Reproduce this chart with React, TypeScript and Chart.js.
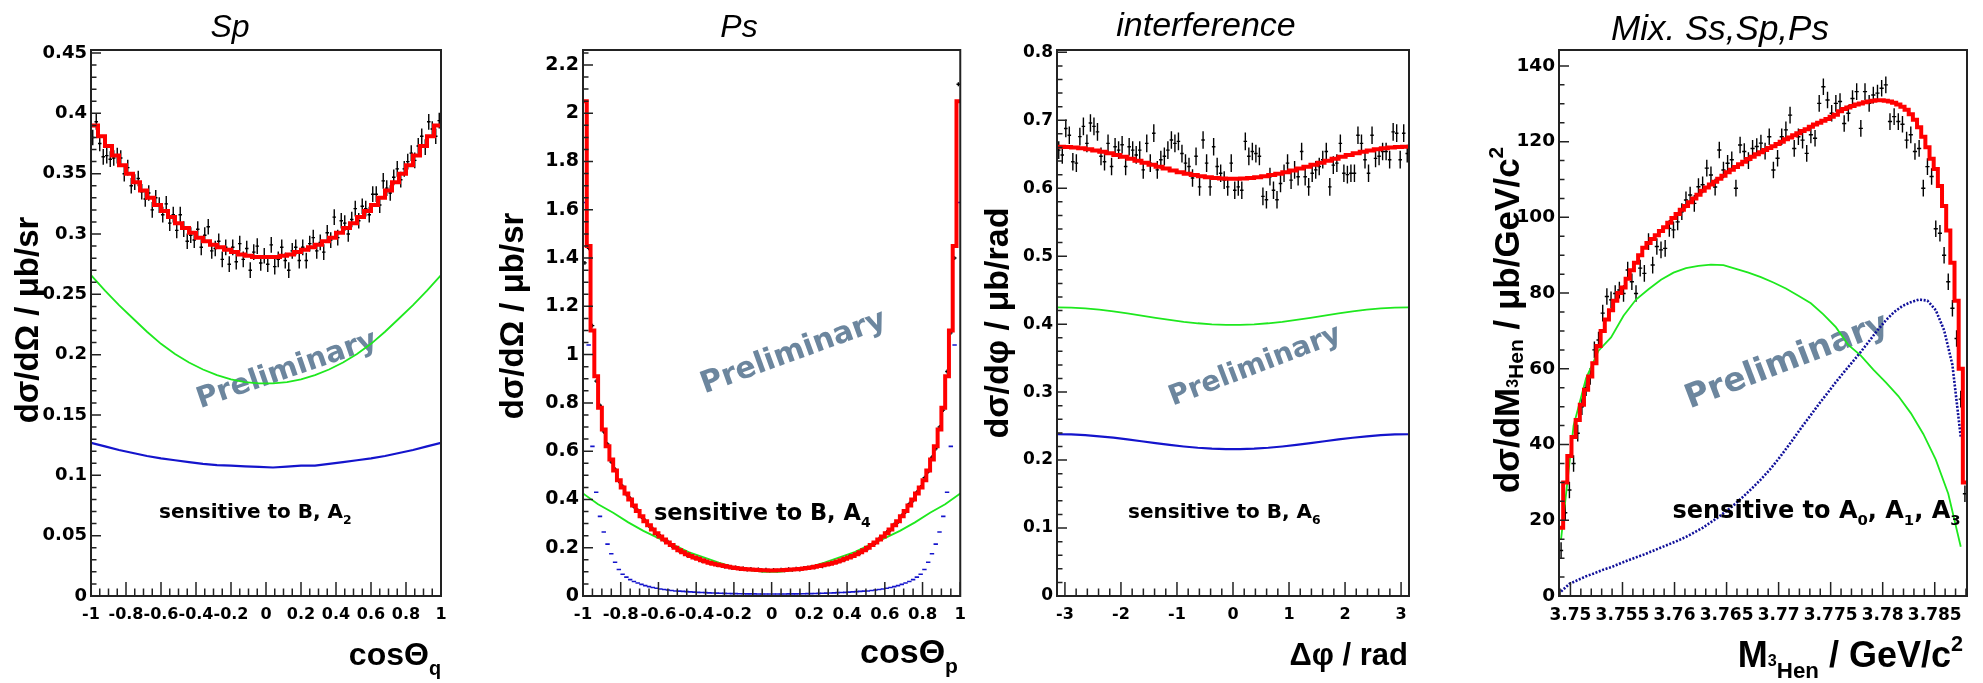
import React, { useEffect, useRef } from "react";
import { Chart, registerables } from "chart.js";

Chart.register(...registerables);

const PAGE_W = 1983;
const PAGE_H = 683;

/* ================= Panel 1 : Sp ================= */
const SP_X_TICKS = [-1, -0.8, -0.6, -0.4, -0.2, 0, 0.2, 0.4, 0.6, 0.8, 1];
const SP_X_LABELS = ["-1", "-0.8", "-0.6", "-0.4", "-0.2", "0", "0.2", "0.4", "0.6", "0.8", "1"];
const SP_Y_TICKS = [0, 0.05, 0.1, 0.15, 0.2, 0.25, 0.3, 0.35, 0.4, 0.45];
const SP_Y_LABELS = ["0", "0.05", "0.1", "0.15", "0.2", "0.25", "0.3", "0.35", "0.4", "0.45"];
const SP_DATA = [
  0.380, 0.393, 0.375, 0.364, 0.365, 0.362, 0.363, 0.365, 0.363, 0.350,
  0.355, 0.340, 0.343, 0.346, 0.335, 0.329, 0.334, 0.320, 0.330, 0.324,
  0.316, 0.325, 0.309, 0.316, 0.303, 0.316, 0.304, 0.294, 0.299, 0.295,
  0.304, 0.289, 0.299, 0.306, 0.286, 0.288, 0.294, 0.279, 0.289, 0.275,
  0.289, 0.277, 0.292, 0.279, 0.288, 0.270, 0.285, 0.290, 0.276, 0.282,
  0.275, 0.291, 0.273, 0.279, 0.289, 0.278, 0.270, 0.286, 0.289, 0.278,
  0.289, 0.278, 0.292, 0.297, 0.286, 0.293, 0.285, 0.301, 0.295, 0.314,
  0.297, 0.311, 0.309, 0.300, 0.312, 0.321, 0.311, 0.323, 0.321, 0.316,
  0.333, 0.333, 0.324, 0.344, 0.338, 0.334, 0.347, 0.354, 0.345, 0.354,
  0.360, 0.367, 0.361, 0.373, 0.381, 0.372, 0.393, 0.387, 0.381, 0.394,
];
const SP_FIT = [
  0.390, 0.381, 0.373, 0.365, 0.357, 0.350, 0.343, 0.336, 0.330, 0.324,
  0.319, 0.314, 0.309, 0.305, 0.301, 0.297, 0.294, 0.291, 0.289, 0.287,
  0.285, 0.283, 0.282, 0.281, 0.281, 0.281, 0.281, 0.282, 0.283, 0.285,
  0.287, 0.289, 0.291, 0.294, 0.297, 0.301, 0.305, 0.309, 0.314, 0.319,
  0.324, 0.330, 0.336, 0.343, 0.350, 0.357, 0.365, 0.373, 0.381, 0.390,
];
const SP_GREEN = [
  0.266, 0.253, 0.241, 0.230, 0.219, 0.209, 0.2005, 0.1935, 0.1877, 0.183, 0.1795, 0.1772, 0.1762,
  0.1762, 0.1772, 0.1795, 0.183, 0.1877, 0.1935, 0.2005, 0.209, 0.219, 0.230, 0.241, 0.253, 0.266,
];
const SP_BLUE = [
  0.127, 0.124, 0.121, 0.1185, 0.116, 0.114, 0.1125, 0.111, 0.1095, 0.1085, 0.108, 0.1075, 0.107,
  0.1065, 0.1072, 0.108, 0.108, 0.1095, 0.111, 0.1125, 0.114, 0.116, 0.1185, 0.121, 0.124, 0.127,
];

/* ================= Panel 2 : Ps ================= */
const PS_X_TICKS = SP_X_TICKS;
const PS_X_LABELS = SP_X_LABELS;
const PS_Y_TICKS = [0, 0.2, 0.4, 0.6, 0.8, 1, 1.2, 1.4, 1.6, 1.8, 2, 2.2];
const PS_Y_LABELS = ["0", "0.2", "0.4", "0.6", "0.8", "1", "1.2", "1.4", "1.6", "1.8", "2", "2.2"];
const PS_FIT = [
  2.05, 1.45, 1.10, 0.91, 0.78, 0.69, 0.62, 0.565, 0.52, 0.48,
  0.45, 0.425, 0.40, 0.375, 0.352, 0.33, 0.31, 0.293, 0.276, 0.26,
  0.246, 0.234, 0.222, 0.211, 0.200, 0.19, 0.181, 0.173, 0.166, 0.16,
  0.154, 0.148, 0.143, 0.138, 0.134, 0.13, 0.127, 0.124, 0.121, 0.118,
  0.116, 0.114, 0.112, 0.111, 0.110, 0.109, 0.108, 0.107, 0.107, 0.106,
  0.106, 0.107, 0.107, 0.108, 0.109, 0.110, 0.111, 0.112, 0.114, 0.116,
  0.118, 0.121, 0.124, 0.127, 0.13, 0.134, 0.138, 0.143, 0.148, 0.154,
  0.16, 0.166, 0.173, 0.181, 0.19, 0.200, 0.211, 0.222, 0.234, 0.246,
  0.26, 0.276, 0.293, 0.31, 0.33, 0.352, 0.375, 0.40, 0.425, 0.45,
  0.48, 0.52, 0.565, 0.62, 0.69, 0.78, 0.91, 1.10, 1.45, 2.05,
];
const PS_DATA = [
  1.38, 1.44, 1.12, 0.89, 0.79, 0.68, 0.63, 0.555, 0.525, 0.475,
  0.455, 0.42, 0.405, 0.37, 0.356, 0.327, 0.313, 0.29, 0.279, 0.257,
  0.249, 0.231, 0.225, 0.208, 0.203, 0.187, 0.183, 0.171, 0.168, 0.158,
  0.156, 0.146, 0.145, 0.136, 0.136, 0.128, 0.129, 0.122, 0.123, 0.116,
  0.118, 0.112, 0.114, 0.109, 0.112, 0.107, 0.11, 0.105, 0.109, 0.104,
  0.108, 0.105, 0.109, 0.106, 0.111, 0.108, 0.113, 0.11, 0.115, 0.117,
  0.12, 0.119, 0.125, 0.123, 0.131, 0.132, 0.139, 0.141, 0.147, 0.152,
  0.162, 0.164, 0.175, 0.179, 0.192, 0.197, 0.213, 0.219, 0.237, 0.243,
  0.264, 0.272, 0.297, 0.306, 0.334, 0.348, 0.382, 0.395, 0.43, 0.452,
  0.49, 0.515, 0.575, 0.61, 0.70, 0.77, 0.93, 1.09, 1.40, 2.12,
];
const PS_GREEN = [
  0.425, 0.38, 0.345, 0.305, 0.27, 0.24, 0.212, 0.182, 0.16, 0.138, 0.12, 0.107, 0.100,
  0.100, 0.107, 0.12, 0.138, 0.16, 0.182, 0.212, 0.24, 0.27, 0.305, 0.345, 0.38, 0.425,
];
const PS_BLUE = [
  1.63, 1.04, 0.62, 0.43, 0.33, 0.265, 0.215, 0.175, 0.14, 0.11,
  0.09, 0.078, 0.068, 0.06, 0.054, 0.048, 0.043, 0.039, 0.035, 0.032,
  0.029, 0.027, 0.025, 0.023, 0.021, 0.020, 0.019, 0.018, 0.017, 0.016,
  0.015, 0.0145, 0.014, 0.013, 0.0125, 0.012, 0.0115, 0.011, 0.0105, 0.010,
  0.0098, 0.0095, 0.0092, 0.009, 0.0088, 0.0086, 0.0085, 0.0084, 0.0083, 0.0083,
  0.0083, 0.0083, 0.0084, 0.0085, 0.0086, 0.0088, 0.009, 0.0092, 0.0095, 0.0098,
  0.010, 0.0105, 0.011, 0.0115, 0.012, 0.0125, 0.013, 0.014, 0.0145, 0.015,
  0.016, 0.017, 0.018, 0.019, 0.020, 0.021, 0.023, 0.025, 0.027, 0.029,
  0.032, 0.035, 0.039, 0.043, 0.048, 0.054, 0.06, 0.068, 0.078, 0.09,
  0.11, 0.14, 0.175, 0.215, 0.265, 0.33, 0.43, 0.62, 1.04, 1.63,
];

/* ================= Panel 3 : interference ================= */
const INT_X_TICKS = [-3, -2, -1, 0, 1, 2, 3];
const INT_X_LABELS = ["-3", "-2", "-1", "0", "1", "2", "3"];
const INT_Y_TICKS = [0, 0.1, 0.2, 0.3, 0.4, 0.5, 0.6, 0.7, 0.8];
const INT_Y_LABELS = ["0", "0.1", "0.2", "0.3", "0.4", "0.5", "0.6", "0.7", "0.8"];
const INT_DATA = [
  0.656, 0.649, 0.688, 0.678, 0.639, 0.637, 0.676, 0.691, 0.666, 0.696,
  0.691, 0.683, 0.647, 0.639, 0.666, 0.632, 0.661, 0.656, 0.664, 0.632,
  0.661, 0.656, 0.649, 0.656, 0.627, 0.666, 0.637, 0.681, 0.627, 0.642,
  0.647, 0.656, 0.671, 0.666, 0.669, 0.651, 0.637, 0.632, 0.615, 0.647,
  0.602, 0.671, 0.637, 0.602, 0.661, 0.632, 0.622, 0.612, 0.602, 0.637,
  0.597, 0.602, 0.597, 0.669, 0.647, 0.654, 0.651, 0.647, 0.588, 0.583,
  0.617, 0.597, 0.583, 0.607, 0.622, 0.637, 0.612, 0.627, 0.617, 0.654,
  0.617, 0.602, 0.622, 0.627, 0.632, 0.642, 0.654, 0.602, 0.634, 0.637,
  0.666, 0.622, 0.620, 0.622, 0.622, 0.678, 0.666, 0.642, 0.622, 0.678,
  0.644, 0.647, 0.654, 0.654, 0.642, 0.683, 0.681, 0.642, 0.681, 0.651,
];
const INT_FIT = [
  0.661, 0.6606, 0.6599, 0.6588, 0.6573, 0.6556, 0.6536, 0.6513, 0.6488, 0.6462,
  0.6434, 0.6404, 0.6375, 0.6346, 0.6317, 0.6289, 0.6262, 0.6237, 0.6214, 0.6194,
  0.6177, 0.6162, 0.6152, 0.6144, 0.6141, 0.6141, 0.6144, 0.6152, 0.6162, 0.6177,
  0.6194, 0.6214, 0.6237, 0.6262, 0.6289, 0.6317, 0.6346, 0.6375, 0.6404, 0.6434,
  0.6462, 0.6488, 0.6513, 0.6536, 0.6556, 0.6573, 0.6588, 0.6599, 0.6606, 0.661,
];
const INT_GREEN = [
  0.4248, 0.4244, 0.4232, 0.4213, 0.4188, 0.4158, 0.4126, 0.4094, 0.4063, 0.4035, 0.4013, 0.3997, 0.3989,
  0.3989, 0.3997, 0.4013, 0.4035, 0.4063, 0.4094, 0.4126, 0.4158, 0.4188, 0.4213, 0.4232, 0.4244, 0.4248,
];
const INT_BLUE = [
  0.238, 0.2377, 0.2366, 0.235, 0.2329, 0.2304, 0.2277, 0.2249, 0.2223, 0.22, 0.2181, 0.2168, 0.2161,
  0.2161, 0.2168, 0.2181, 0.22, 0.2223, 0.2249, 0.2277, 0.2304, 0.2329, 0.235, 0.2366, 0.2377, 0.238,
];

/* ================= Panel 4 : Mix. Ss,Sp,Ps ================= */
const MIX_X_TICKS = [3.75, 3.755, 3.76, 3.765, 3.77, 3.775, 3.78, 3.785];
const MIX_X_LABELS = ["3.75", "3.755", "3.76", "3.765", "3.77", "3.775", "3.78", "3.785"];
const MIX_Y_TICKS = [0, 20, 40, 60, 80, 100, 120, 140];
const MIX_Y_LABELS = ["0", "20", "40", "60", "80", "100", "120", "140"];
const MIX_DATA = [
  12, 22, 28, 35, 43, 50, 55, 58, 65, 67.6,
  74.7, 79.1, 78.2, 79.9, 80.8, 79.9, 86.1, 83, 79.9, 86.6,
  85.2, 93.6, 87.4, 92.3, 91.4, 91.8, 97.1, 96.7, 98.8, 101.5,
  104.6, 105.9, 103.7, 108.1, 108.6, 113, 111.2, 108, 117.8, 112.5,
  114.3, 115.2, 107.7, 119.1, 117.4, 115, 118.2, 118.7, 119.6, 117.5,
  121.3, 112.5, 115.6, 121.3, 123.1, 127, 118.2, 121.3, 120.4, 116.9,
  121.8, 120.9, 130.1, 134.5, 131, 127.5, 130.1, 130.6, 124.8, 127.5,
  131.4, 133.2, 123.5, 133.2, 130.1, 132.3, 132.8, 134.1, 135, 125.3,
  126.6, 125.3, 124.6, 120.4, 121.8, 117.4, 118.2, 107.7, 113.4, 110.8,
  97, 95.8, 90, 83, 76, 68, 52, 27,
];
const MIX_FIT = [
  18, 30, 37, 42, 46.5, 50.5, 54.5, 58, 61.5, 66,
  70, 73, 75.5, 78, 80, 81.5, 83.8, 86, 88, 90,
  92, 93.2, 94.3, 95.3, 96.4, 97.4, 98.6, 99.8, 100.9, 102,
  103, 104, 105, 106, 107, 107.9, 108.7, 109.4, 110.2, 111,
  111.9, 112.6, 113.3, 114, 114.7, 115.4, 116, 116.7, 117.2, 117.8,
  118.3, 118.8, 119.4, 120, 120.6, 121.1, 121.7, 122.2, 122.8, 123.3,
  123.9, 124.5, 125, 125.5, 126, 126.6, 127.1, 128, 128.6, 129,
  129.4, 129.8, 130.1, 130.4, 130.6, 130.8, 130.9, 130.9, 130.8, 130.6,
  130.3, 129.8, 129.2, 128.4, 127.2, 125.8, 123.8, 121.3, 118.5, 115.5,
  112.8, 108.3, 103, 96.5, 88, 78, 60, 30,
];
const MIX_GREEN = [
  15, 45, 57.5, 64.8, 68.3, 74, 78.3, 81, 83.5, 85.4, 86.6, 87.2, 87.5, 87.4, 86.4, 85.4, 84.2,
  82.8, 81.2, 79.3, 77.3, 74.4, 71, 66.3, 63.5, 59.8, 56.4, 52.8, 48.3, 42.8, 36, 27, 13,
];
const MIX_BLUE = [
  1.2, 3.2, 4.2, 5.2, 6, 6.9, 7.6, 8.5, 9.4, 10.2,
  11, 11.9, 12.8, 13.7, 14.6, 15.6, 16.8, 18, 19.5, 21,
  22.7, 24.5, 26.5, 28.6, 30.8, 33.2, 35.9, 38.8, 41.8, 44.9,
  47.8, 50.8, 53.6, 56.5, 59.2, 61.8, 64.5, 67.3, 70.2, 72.8,
  75, 76.6, 77.6, 78.3, 78, 75.5, 70.2, 61, 42,
];

/* ================= helpers ================= */
const LIB = "'Liberation Sans', Arial, Helvetica, sans-serif";
const DEJ = "'DejaVu Sans', Verdana, sans-serif";
const RED = "#ff0000";
const GREEN = "#1ee81e";
const BLUE = "#1414cc";
const DARK_BLUE = "#10109a";
const PRELIM_COLOR = "rgb(108,134,158)";

type Seg = { t: string; k?: "sub" | "sup" | "pre" | "low" };

const stepPts = (lo: number, hi: number, vals: number[]) => {
  const w = (hi - lo) / vals.length;
  const pts = vals.map((v, i) => ({ x: lo + i * w, y: v }));
  pts.push({ x: hi, y: vals[vals.length - 1] });
  return pts;
};
const centerPts = (lo: number, hi: number, vals: number[]) => {
  const w = (hi - lo) / vals.length;
  return vals.map((v, i) => ({ x: lo + (i + 0.5) * w, y: v }));
};
const gridPts = (x0: number, dx: number, vals: number[]) => vals.map((v, i) => ({ x: x0 + i * dx, y: v }));

const fitDs = (pts: any[]) => ({
  data: pts, showLine: true, stepped: true, borderColor: RED, borderWidth: 4, pointRadius: 0, fill: false,
});
const curveDs = (pts: any[], color: string, width: number, extra: any = {}) => ({
  data: pts, showLine: true, borderColor: color, borderWidth: width, pointRadius: 0, fill: false, ...extra,
});
const dataDs = (pts: any[], ex: number, ey: number) => ({
  data: pts, showLine: false, pointRadius: 0, errX: ex, errY: ey,
});

function segM(seg: Seg, size: number) {
  if (seg.k === "sub") return { s: size * 0.62, dy: size * 0.3 };
  if (seg.k === "low") return { s: size * 0.6, dy: size * 0.1 };
  if (seg.k === "sup") return { s: size * 0.6, dy: -size * 0.45 };
  if (seg.k === "pre") return { s: size * 0.45, dy: -size * 0.02 };
  return { s: size, dy: 0 };
}

function drawRich(ctx: any, segs: Seg[], x: number, y: number, size: number, family: string,
  style: string, align: string, angle: number) {
  ctx.save();
  ctx.translate(x, y);
  ctx.rotate(angle);
  ctx.textBaseline = "alphabetic";
  ctx.textAlign = "left";
  ctx.fillStyle = "#000";
  let total = 0;
  const widths = segs.map((seg) => {
    const m = segM(seg, size);
    ctx.font = `${style} ${m.s}px ${family}`;
    const w = ctx.measureText(seg.t).width;
    total += w;
    return w;
  });
  let cx = align === "left" ? 0 : align === "right" ? -total : -total / 2;
  segs.forEach((seg, i) => {
    const m = segM(seg, size);
    ctx.font = `${style} ${m.s}px ${family}`;
    ctx.fillText(seg.t, cx, m.dy);
    cx += widths[i];
  });
  ctx.restore();
}

/* ================= panel definitions ================= */
const PANELS: any[] = [
  {
    key: "sp", left: 0, width: 470, yAxisW: 91, padRight: 29,
    xMin: -1, xMax: 1, yMin: 0, yMax: 0.4525,
    xTicks: SP_X_TICKS, xLabels: SP_X_LABELS, xMinor: 0.05,
    yTicks: SP_Y_TICKS, yLabels: SP_Y_LABELS, yMinor: 0.01,
    xTickSize: 16, yTickSize: 18,
    title: "Sp", titleX: 230, titleY: 37, titleSize: 32,
    yTitle: [{ t: "dσ/dΩ / μb/sr" }], yTitleX: 38, yTitleY: 320, yTitleSize: 33,
    xTitle: [{ t: "cosΘ" }, { t: "q", k: "sub" }], xTitleX: 441, xTitleY: 665, xTitleSize: 32,
    note: [{ t: "sensitive to B, A" }, { t: "2", k: "sub" }], noteAt: [-0.611, 0.0646], noteSize: 20,
    prelimAt: [0.12, 0.187], prelimAngle: 19, prelimSize: 29,
    datasets: () => [
      fitDs(stepPts(-1, 1, SP_FIT)),
      curveDs(gridPts(-1, 0.08, SP_BLUE), BLUE, 2.2),
      curveDs(gridPts(-1, 0.08, SP_GREEN), GREEN, 1.8),
      dataDs(centerPts(-1, 1, SP_DATA), 0.01, 0.0065),
    ],
  },
  {
    key: "ps", left: 470, width: 505, yAxisW: 113, padRight: 14,
    xMin: -1, xMax: 1, yMin: 0, yMax: 2.262,
    xTicks: PS_X_TICKS, xLabels: PS_X_LABELS, xMinor: 0.05,
    yTicks: PS_Y_TICKS, yLabels: PS_Y_LABELS, yMinor: 0.05,
    xTickSize: 16.5, yTickSize: 19,
    title: "Ps", titleX: 269, titleY: 37, titleSize: 32,
    yTitle: [{ t: "dσ/dΩ / μb/sr" }], yTitleX: 53, yTitleY: 316, yTitleSize: 33,
    xTitle: [{ t: "cosΘ" }, { t: "p", k: "sub" }], xTitleX: 488, xTitleY: 663, xTitleSize: 34,
    note: [{ t: "sensitive to B, A" }, { t: "4", k: "sub" }], noteAt: [-0.624, 0.315], noteSize: 22.5,
    prelimAt: [0.116, 1.008], prelimAngle: 20, prelimSize: 30,
    datasets: () => [
      fitDs(stepPts(-1, 1, PS_FIT)),
      {
        data: centerPts(-1, 1, PS_BLUE), showLine: false, pointStyle: "line", pointRadius: 2.2,
        pointBorderWidth: 1.6, pointBorderColor: BLUE, pointBackgroundColor: BLUE,
      },
      curveDs(gridPts(-1, 0.08, PS_GREEN), GREEN, 1.8),
      dataDs(centerPts(-1, 1, PS_DATA), 0.01, 0.008),
    ],
  },
  {
    key: "int", left: 975, width: 450, yAxisW: 82, padRight: 16,
    xMin: -Math.PI, xMax: Math.PI, yMin: 0, yMax: 0.8034,
    xTicks: INT_X_TICKS, xLabels: INT_X_LABELS, xMinor: 0.2,
    yTicks: INT_Y_TICKS, yLabels: INT_Y_LABELS, yMinor: 0.02,
    xTickSize: 16, yTickSize: 17,
    title: "interference", titleX: 231, titleY: 36, titleSize: 34,
    yTitle: [{ t: "dσ/dφ / μb/rad" }], yTitleX: 33, yTitleY: 323, yTitleSize: 34,
    xTitle: [{ t: "Δφ / rad" }], xTitleX: 433, xTitleY: 665, xTitleSize: 31,
    note: [{ t: "sensitive to B, A" }, { t: "6", k: "sub" }], noteAt: [-1.874, 0.1148], noteSize: 20,
    prelimAt: [0.396, 0.338], prelimAngle: 21, prelimSize: 28,
    datasets: () => [
      fitDs(stepPts(-Math.PI, Math.PI, INT_FIT)),
      curveDs(gridPts(-Math.PI, (2 * Math.PI) / 25, INT_BLUE), BLUE, 2.2),
      curveDs(gridPts(-Math.PI, (2 * Math.PI) / 25, INT_GREEN), GREEN, 1.8),
      dataDs(centerPts(-Math.PI, Math.PI, INT_DATA), Math.PI / 100, 0.013),
    ],
  },
  {
    key: "mix", left: 1425, width: 558, yAxisW: 134, padRight: 16,
    xMin: 3.7489, xMax: 3.7881, yMin: 0, yMax: 144.2,
    xTicks: MIX_X_TICKS, xLabels: MIX_X_LABELS, xMinor: 0.001,
    yTicks: MIX_Y_TICKS, yLabels: MIX_Y_LABELS, yMinor: 5,
    xTickSize: 17, yTickSize: 18.5,
    title: "Mix. Ss,Sp,Ps", titleX: 295, titleY: 40, titleSize: 35,
    yTitle: [{ t: "dσ/dM" }, { t: "3", k: "pre" }, { t: "Hen", k: "low" }, { t: " / μb/GeV/c" }, { t: "2", k: "sup" }],
    yTitleX: 94, yTitleY: 320, yTitleSize: 35,
    xTitle: [{ t: "M" }, { t: "3", k: "pre" }, { t: "Hen", k: "sub" }, { t: " / GeV/c" }, { t: "2", k: "sup" }],
    xTitleX: 538, xTitleY: 667, xTitleSize: 36,
    note: [{ t: "sensitive to A" }, { t: "0", k: "sub" }, { t: ", A" }, { t: "1", k: "sub" }, { t: ", A" }, { t: "3", k: "sub" }],
    noteAt: [3.7598, 20.6], noteSize: 24,
    prelimAt: [3.7708, 61.8], prelimAngle: 21, prelimSize: 33,
    datasets: () => [
      fitDs(stepPts(3.7489, 3.7881, MIX_FIT)),
      curveDs(gridPts(3.7491, 0.0008, MIX_BLUE), DARK_BLUE, 2.6, { borderDash: [2, 1.6] }),
      curveDs(gridPts(3.7491, 0.0012, MIX_GREEN), GREEN, 1.8),
      dataDs(centerPts(3.7489, 3.7881, MIX_DATA), 0.0002, 2.2),
    ],
  },
];

/* ================= decoration plugin ================= */
function drawAxisTicks(ctx: any, scale: any, min: number, max: number, majors: number[], minorStep: number,
  horizontal: boolean, a: any) {
  const majLen = horizontal ? 14 : 10;
  const minLen = horizontal ? 7.5 : 5.5;
  ctx.beginPath();
  const line = (v: number, len: number) => {
    const p = scale.getPixelForValue(v);
    if (horizontal) {
      ctx.moveTo(p, a.bottom);
      ctx.lineTo(p, a.bottom - len);
    } else {
      ctx.moveTo(a.left, p);
      ctx.lineTo(a.left + len, p);
    }
  };
  majors.forEach((v) => line(v, majLen));
  const n0 = Math.ceil(min / minorStep - 1e-6);
  const n1 = Math.floor(max / minorStep + 1e-6);
  for (let n = n0; n <= n1; n++) {
    const v = n * minorStep;
    if (majors.some((m) => Math.abs(m - v) < minorStep * 1e-3)) continue;
    line(v, minLen);
  }
  ctx.stroke();
}

function makePlugin(p: any) {
  return {
    id: "panelDecor_" + p.key,
    beforeDatasetsDraw(chart: any) {
      const { ctx, chartArea: a, scales } = chart;
      const xs = scales.x;
      const ys = scales.y;
      ctx.save();
      ctx.translate(xs.getPixelForValue(p.prelimAt[0]), ys.getPixelForValue(p.prelimAt[1]));
      ctx.rotate((-p.prelimAngle * Math.PI) / 180);
      ctx.font = `bold ${p.prelimSize}px ${DEJ}`;
      ctx.fillStyle = PRELIM_COLOR;
      ctx.textAlign = "center";
      ctx.textBaseline = "middle";
      ctx.fillText("Preliminary", 0, 0);
      ctx.restore();
      ctx.save();
      ctx.beginPath();
      ctx.rect(a.left, a.top, a.right - a.left, a.bottom - a.top);
      ctx.clip();
      ctx.strokeStyle = "#000";
      ctx.lineWidth = 1.4;
      chart.data.datasets.forEach((ds: any) => {
        if (ds.errY === undefined) return;
        ctx.beginPath();
        ds.data.forEach((pt: any) => {
          const px = xs.getPixelForValue(pt.x);
          const py = ys.getPixelForValue(pt.y);
          ctx.moveTo(px, ys.getPixelForValue(pt.y - ds.errY));
          ctx.lineTo(px, ys.getPixelForValue(pt.y + ds.errY));
          ctx.moveTo(xs.getPixelForValue(pt.x - ds.errX), py);
          ctx.lineTo(xs.getPixelForValue(pt.x + ds.errX), py);
        });
        ctx.stroke();
      });
      ctx.restore();
    },
    afterDatasetsDraw(chart: any) {
      const { ctx, chartArea: a, scales } = chart;
      ctx.save();
      ctx.strokeStyle = "#222";
      ctx.lineWidth = 1.5;
      drawAxisTicks(ctx, scales.x, p.xMin, p.xMax, p.xTicks, p.xMinor, true, a);
      drawAxisTicks(ctx, scales.y, p.yMin, p.yMax, p.yTicks, p.yMinor, false, a);
      ctx.lineWidth = 2;
      ctx.strokeRect(a.left, a.top, a.right - a.left, a.bottom - a.top);
      ctx.restore();
      drawRich(ctx, p.note, scales.x.getPixelForValue(p.noteAt[0]), scales.y.getPixelForValue(p.noteAt[1]),
        p.noteSize, DEJ, "bold", "left", 0);
    },
    afterDraw(chart: any) {
      const { ctx } = chart;
      ctx.save();
      ctx.fillStyle = "#000";
      ctx.font = `italic ${p.titleSize}px ${LIB}`;
      ctx.textAlign = "center";
      ctx.textBaseline = "alphabetic";
      ctx.fillText(p.title, p.titleX, p.titleY);
      ctx.restore();
      drawRich(ctx, p.yTitle, p.yTitleX, p.yTitleY, p.yTitleSize, LIB, "bold", "center", -Math.PI / 2);
      drawRich(ctx, p.xTitle, p.xTitleX, p.xTitleY, p.xTitleSize, LIB, "bold", "right", 0);
    },
  };
}

function buildConfig(p: any): any {
  return {
    type: "scatter",
    data: { datasets: p.datasets() },
    options: {
      animation: false,
      responsive: false,
      devicePixelRatio: 1,
      events: [],
      layout: { padding: { left: 0, right: p.padRight, top: 50, bottom: 0 } },
      plugins: { legend: { display: false }, tooltip: { enabled: false }, title: { display: false } },
      scales: {
        x: {
          type: "linear",
          min: p.xMin,
          max: p.xMax,
          grid: { display: false, drawTicks: false },
          border: { display: false },
          afterBuildTicks: (s: any) => { s.ticks = p.xTicks.map((v: number) => ({ value: v })); },
          afterFit: (s: any) => { s.height = PAGE_H - 596; },
          ticks: {
            autoSkip: false, maxRotation: 0, minRotation: 0, padding: 9, color: "#000",
            font: { family: DEJ, weight: "bold", size: p.xTickSize },
            callback: (_v: any, i: number) => p.xLabels[i],
          },
        },
        y: {
          type: "linear",
          min: p.yMin,
          max: p.yMax,
          grid: { display: false, drawTicks: false },
          border: { display: false },
          afterBuildTicks: (s: any) => { s.ticks = p.yTicks.map((v: number) => ({ value: v })); },
          afterFit: (s: any) => { s.width = p.yAxisW; },
          ticks: {
            autoSkip: false, padding: 4, color: "#000",
            font: { family: DEJ, weight: "bold", size: p.yTickSize },
            callback: (_v: any, i: number) => p.yLabels[i],
          },
        },
      },
    },
    plugins: [makePlugin(p)],
  };
}

function Panel({ p }: { p: any }) {
  const ref = useRef<HTMLCanvasElement>(null);
  useEffect(() => {
    if (!ref.current) return;
    const chart = new Chart(ref.current, buildConfig(p));
    return () => chart.destroy();
  }, [p]);
  return (
    <div style={{ position: "absolute", left: p.left, top: 0, width: p.width, height: PAGE_H }}>
      <canvas ref={ref} width={p.width} height={PAGE_H} style={{ display: "block" }} />
    </div>
  );
}

export default function App() {
  return (
    <div
      style={{
        position: "absolute", left: 0, top: 0, width: PAGE_W, height: PAGE_H,
        background: "#fff", overflow: "hidden",
      }}
    >
      {PANELS.map((p) => (
        <Panel key={p.key} p={p} />
      ))}
    </div>
  );
}
